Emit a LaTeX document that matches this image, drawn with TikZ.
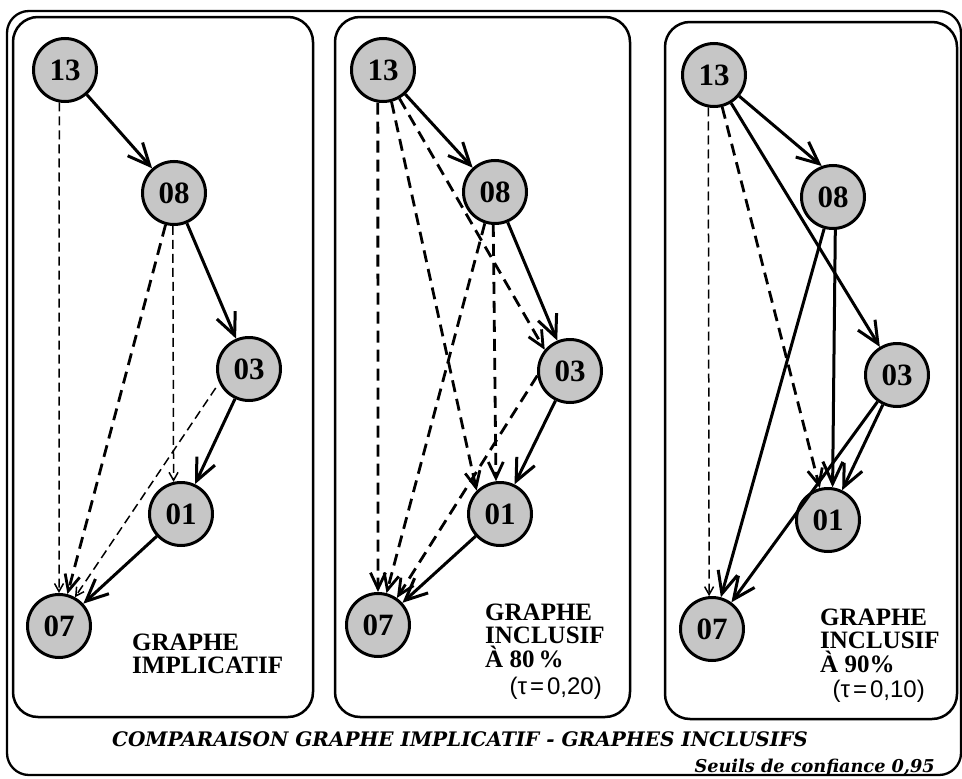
\documentclass[tikz,border=0pt]{standalone}
\usepackage{fontspec}
\setmainfont{Liberation Serif}
\newfontfamily\sansfnt{Liberation Sans}
\newfontfamily\capfnt{DejaVu Serif}
\usetikzlibrary{arrows.meta}

\begin{document}
\begin{tikzpicture}[x=1pt,y=-1pt,
  outerframe/.style={draw, line width=2.3pt, rounded corners=22pt},
  panel/.style={draw, line width=2.5pt, rounded corners=25pt},
  vertex/.style={circle, draw, line width=3pt, fill=gray!45, minimum size=63pt,
    inner sep=0pt, font=\fontsize{31}{31}\selectfont\bfseries},
  strong/.style={line width=3pt, -{Straight Barb[length=22pt,width=20pt]}},
  weak/.style={line width=2.8pt, dash pattern=on 12pt off 7pt,
    -{Straight Barb[length=16pt,width=15pt]}},
  faint/.style={line width=1.5pt, dash pattern=on 9pt off 5pt,
    -{Straight Barb[length=8pt,width=9pt]}},
  caption/.style={anchor=base west, inner sep=0pt,
    font=\fontsize{25}{25}\selectfont\bfseries},
  tau/.style={anchor=base east, inner sep=0pt,
    font=\fontsize{24}{24}\selectfont\sansfnt},
]
\useasboundingbox (0,0) rectangle (962,779);

% frames
\draw[outerframe] (7,11) rectangle (961,775);
\draw[panel] (13,17) rectangle (313,717);
\draw[panel] (335,17) rectangle (630,717);
\draw[panel] (665,22) rectangle (957,719);

% implicative graph
\node[vertex] (a13) at (65,70) {13};
\node[vertex] (a08) at (174,193) {08};
\node[vertex] (a03) at (249,369) {03};
\node[vertex] (a01) at (181,514) {01};
\node[vertex] (a07) at (59,626) {07};
\draw[strong] (a13) -- (a08);
\draw[faint] (a13.-100) -- (a07.north);
\draw[strong] (a08) -- (a03);
\draw[weak] (a08) -- (a07);
\draw[faint] (a08.-92) -- (a01.103);
\draw[faint, shorten <=6pt] (a03.205) -- (a07.61);
\draw[strong] (a03) -- (a01);
\draw[strong] (a01) -- (a07);
\node[caption] (la1) at (132,650) {GRAPHE};
\node[caption] (la2) at (132,673) {IMPLICATIF};

% inclusive graph, 80 %
\node[vertex] (b13) at (383,70) {13};
\node[vertex] (b08) at (495,192) {08};
\node[vertex] (b03) at (570,371) {03};
\node[vertex] (b01) at (500,514) {01};
\node[vertex] (b07) at (378,625) {07};
\draw[strong] (b13) -- (b08);
\draw[weak] (b13.-99) -- (b07.north);
\draw[weak] (b13.-75) -- (b01.135);
\draw[weak] (b13.-60) -- (b03.140);
\draw[weak] (b08.-108) -- (b07.75);
\draw[weak] (b08.-93) -- (b01.97);
\draw[strong] (b08) -- (b03);
\draw[weak] (b03.188) -- (b07.55);
\draw[strong] (b03) -- (b01);
\draw[strong] (b01) -- (b07);
\node[caption] (lb1) at (485,620) {GRAPHE};
\node[caption] (lb2) at (485,643) {INCLUSIF};
\node[caption] (lb3) at (485,667) {À 80\,\%};
\node[tau] (tb) at (602,694) {(τ\kern3pt=\kern3pt0,20)};

% inclusive graph, 90 %
\node[vertex] (c13) at (714,75) {13};
\node[vertex] (c08) at (833,197) {08};
\node[vertex] (c03) at (897,375) {03};
\node[vertex] (c01) at (828,520) {01};
\node[vertex] (c07) at (712,629) {07};
\draw[strong] (c13.-40) -- (c08.110);
\draw[strong] (c13) -- (c03);
\draw[faint] (c13.-100) -- (c07.95);
\draw[weak] (c13) -- (c01);
\draw[strong] (c08) -- (c07);
\draw[strong] (c08.-86) -- (c01.82);
\draw[strong] (c03) -- (c07);
\draw[strong] (c03) -- (c01);
\node[caption] (lc1) at (820,625) {GRAPHE};
\node[caption] (lc2) at (820,648) {INCLUSIF};
\node[caption] (lc3) at (820,672) {À 90\%};
\node[tau] (tc) at (925,697) {(τ\kern3pt=\kern3pt0,10)};

% footer
\node[anchor=base, inner sep=0pt, font=\fontsize{20}{20}\selectfont\capfnt\bfseries\itshape]
  (title) at (460,746) {COMPARAISON GRAPHE IMPLICATIF - GRAPHES INCLUSIFS};
\node[anchor=base east, inner sep=0pt, font=\fontsize{17.7}{18}\selectfont\capfnt\bfseries\itshape]
  (seuil) at (935,772) {Seuils de confiance 0,95};
\end{tikzpicture}
\end{document}
